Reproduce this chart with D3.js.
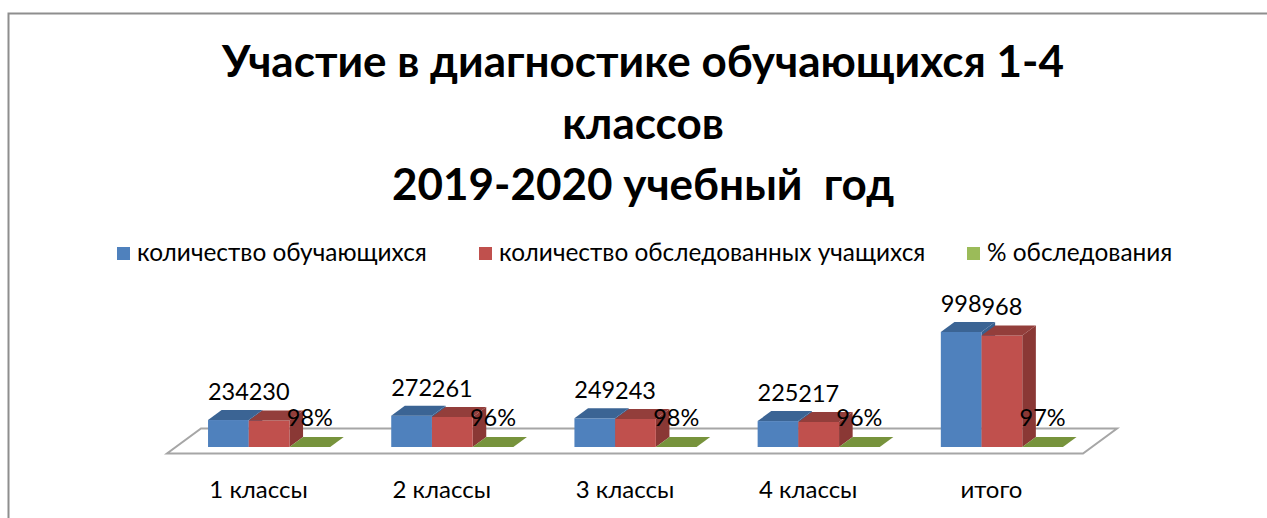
<!DOCTYPE html>
<html>
<head>
<meta charset="utf-8">
<script src="https://cdn.jsdelivr.net/npm/d3@7"></script>
<style>
  body { margin: 0; background: #fff; }
  svg { display: block; }
  text { white-space: pre; }
</style>
</head>
<body>
<script>
// data
const categories = ['1 классы', '2 классы', '3 классы', '4 классы', 'итого'];
const students = [234, 272, 249, 225, 998];
const examined = [230, 261, 243, 217, 968];
const percent = [98, 96, 98, 96, 97];
const seriesNames = ['количество обучающихся', 'количество обследованных учащихся', '% обследования'];
const titleLines = ['Участие в диагностике обучающихся 1-4', 'классов', '2019-2020 учебный  год'];

const width = 1267;
const height = 518;
const font = 'Lato, "Open Sans", sans-serif';

// colours: front, top, side
const colors = [
  { front: '#4f81bd', top: '#3b6494', side: '#37608f' },
  { front: '#c0504d', top: '#933e3b', side: '#8a3835' },
  { front: '#9bbb59', top: '#77933c', side: '#6f8a37' },
];

const svg = d3.select('body').append('svg').attr('width', width).attr('height', height);

// outer frame (only top and left edges visible)
svg.append('path')
  .attr('d', 'M8.5,' + height + 'V13.5H' + width)
  .attr('fill', 'none')
  .attr('stroke', '#8e8e8e')
  .attr('stroke-width', 2);

// title
svg.append('g')
  .selectAll('text')
  .data(titleLines)
  .enter()
  .append('text')
  .attr('x', 643)
  .attr('y', (d, i) => 77 + i * 61.5)
  .attr('text-anchor', 'middle')
  .attr('font-family', font)
  .attr('font-weight', 'bold')
  .attr('font-size', '44px')
  .attr('fill', '#000')
  .text((d) => d);

// legend
const legendX = [117, 479, 967];
const legend = svg.append('g')
  .selectAll('g')
  .data(seriesNames)
  .enter()
  .append('g')
  .attr('transform', (d, i) => `translate(${legendX[i]}, 247)`);
legend.append('rect')
  .attr('width', 13)
  .attr('height', 13)
  .attr('fill', (d, i) => colors[i].front);
legend.append('text')
  .attr('x', 20)
  .attr('y', 14)
  .attr('font-family', font)
  .attr('font-size', '24.4px')
  .attr('fill', '#000')
  .text((d) => d);

// scales
const depthX = 13.6, depthY = 10;
const floorFront = 453.5, floorDX = 34, floorDY = 25;

const xFront = d3.scaleBand().domain(categories).range([167, 1083]);

const x0 = d3.scaleBand()
  .domain(categories)
  .range([177.5, 1093.5])
  .paddingInner(1 / 3)
  .paddingOuter(1 / 6);

const x1 = d3.scaleBand()
  .domain([0, 1, 2])
  .range([0, x0.bandwidth()]);

const y = d3.scaleLinear()
  .domain([0, 1200])
  .range([447, 447 - 1200 * 0.11523]);

// floor
const fl = xFront.range()[0], fr = xFront.range()[1];
svg.append('path')
  .attr('d', `M${fl},${floorFront}L${fr},${floorFront}L${fr + floorDX},${floorFront - floorDY}L${fl + floorDX},${floorFront - floorDY}Z`)
  .attr('fill', '#fff')
  .attr('stroke', '#a6a6a6')
  .attr('stroke-width', 2);

// bars
const bars = [];
categories.forEach((c, i) => {
  bars.push({ cat: c, s: 0, value: students[i], label: String(students[i]) });
  bars.push({ cat: c, s: 1, value: examined[i], label: String(examined[i]) });
  bars.push({ cat: c, s: 2, value: percent[i] / 100, label: percent[i] + '%' });
});

const barG = svg.append('g')
  .selectAll('g')
  .data(bars)
  .enter()
  .append('g');

const bw = x1.bandwidth();

// side face
barG.append('path')
  .attr('d', (d) => {
    const x = x0(d.cat) + x1(d.s) + bw;
    const yt = y(d.value), yb = y(0);
    return `M${x},${yb}L${x},${yt}L${x + depthX},${yt - depthY}L${x + depthX},${yb - depthY}Z`;
  })
  .attr('fill', (d) => colors[d.s].side);

// front face
barG.append('rect')
  .attr('x', (d) => x0(d.cat) + x1(d.s))
  .attr('y', (d) => y(d.value))
  .attr('width', bw)
  .attr('height', (d) => y(0) - y(d.value))
  .attr('fill', (d) => colors[d.s].front);

// top face
barG.append('path')
  .attr('d', (d) => {
    const x = x0(d.cat) + x1(d.s);
    const yt = y(d.value);
    return `M${x},${yt}L${x + depthX},${yt - depthY}L${x + bw + depthX},${yt - depthY}L${x + bw},${yt}Z`;
  })
  .attr('fill', (d) => colors[d.s].top);

// value labels
svg.append('g')
  .selectAll('text')
  .data(bars)
  .enter()
  .append('text')
  .attr('x', (d) => x0(d.cat) + x1(d.s) + bw / 2)
  .attr('y', (d) => y(d.value) - (d.s === 2 ? 21 : 20))
  .attr('text-anchor', 'middle')
  .attr('font-family', font)
  .attr('font-size', '23.5px')
  .attr('fill', '#000')
  .text((d) => d.label);

// category labels
svg.append('g')
  .selectAll('text')
  .data(categories)
  .enter()
  .append('text')
  .attr('x', (d) => xFront(d) + xFront.bandwidth() / 2)
  .attr('y', 498)
  .attr('text-anchor', 'middle')
  .attr('font-family', font)
  .attr('font-size', '24px')
  .attr('fill', '#000')
  .text((d) => d);
</script>
</body>
</html>
